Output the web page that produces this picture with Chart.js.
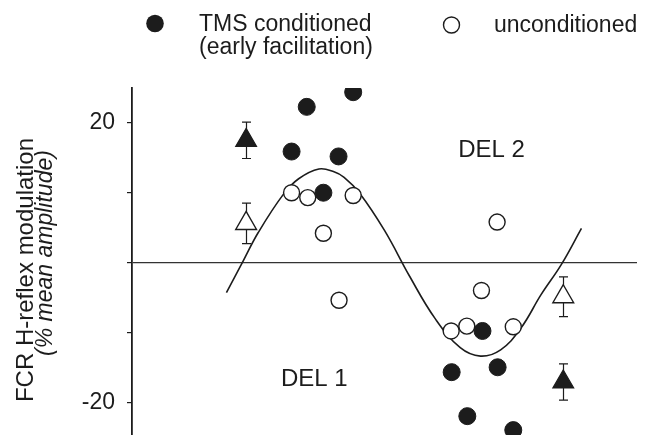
<!DOCTYPE html>
<html>
<head>
<meta charset="utf-8">
<script src="https://cdn.jsdelivr.net/npm/chart.js@4.4.1/dist/chart.umd.min.js"></script>
<style>
  html, body { margin: 0; padding: 0; background: #fff; }
  #wrap { width: 660px; height: 435px; }
</style>
</head>
<body>
<div id="wrap"><canvas id="chart" width="660" height="435"></canvas></div>
<script>
// Individual trials (x is an arbitrary phase axis, no labels in the figure)
const tmsX = [34.6, 43.8, 31.6, 40.9, 37.9, 69.4, 63.3, 72.4, 66.4, 75.5];
const tmsY = [22.3, 24.4, 15.9, 15.2, 10.0, -9.8, -15.7, -15.0, -22.0, -24.0];
const unconX = [31.6, 34.8, 43.8, 37.9, 41.0, 72.3, 69.2, 63.2, 66.3, 75.5];
const unconY = [10.0, 9.3, 9.6, 4.2, -5.4, 5.8, -4.0, -9.8, -9.1, -9.2];

// Means with error bars (triangles)
const meanX = [22.6, 85.4];
const tmsMeanY = [17.5, -17.1];
const tmsMeanErr = [2.6, 2.6];
const unconMeanY = [5.6, -4.9];
const unconMeanErr = [2.9, 2.85];

// Fitted curve
const fitX = [18.7, 22, 25, 30, 33, 37, 40, 42, 45, 50, 55, 60, 65, 69, 73, 77, 81, 85, 89];
const fitY = [-4.3, 0.2, 4.3, 9.8, 12.0, 13.4, 13.0, 12.2, 10.0, 4.6, -2.0, -8.0, -12.2, -13.4, -12.5, -9.4, -4.6, -0.3, 4.9];

const yTicks = [-20, -10, 0, 10, 20];
const yTickLabels = [-20, 20];

const legendLabels = [['TMS conditioned', '(early facilitation)'], ['unconditioned']];
const yTitle = ['FCR H-reflex modulation', '(% mean amplitude)'];
const delLabels = ['DEL 1', 'DEL 2'];

const ink = '#1c1c1c';
const fontFamily = '"Liberation Sans", Arial, Helvetica, sans-serif';

function toPoints(xs, ys) {
    return xs.map((x, i) => ({ x: x, y: ys[i] }));
}

/**
 * Draws error bars, legend, axis title and the DEL annotations
 */
const figureText = {
    id: 'figureText',
    beforeDatasetsDraw(chart) {
        const ctx = chart.ctx;
        const xs = chart.scales.x, ys = chart.scales.y;
        const bars = [[tmsMeanY, tmsMeanErr], [unconMeanY, unconMeanErr]];
        ctx.save();
        ctx.strokeStyle = ink;
        ctx.lineWidth = 1.2;
        bars.forEach(([vals, errs]) => {
            vals.forEach((v, i) => {
                const px = Math.round(xs.getPixelForValue(meanX[i])) + 0.5;
                const top = ys.getPixelForValue(v + errs[i]);
                const bot = ys.getPixelForValue(v - errs[i]);
                ctx.beginPath();
                ctx.moveTo(px, top); ctx.lineTo(px, bot);
                ctx.moveTo(px - 4.5, top); ctx.lineTo(px + 4.5, top);
                ctx.moveTo(px - 4.5, bot); ctx.lineTo(px + 4.5, bot);
                ctx.stroke();
            });
        });
        ctx.restore();
    },
    afterDraw(chart) {
        const ctx = chart.ctx;
        const xs = chart.scales.x, ys = chart.scales.y;
        ctx.save();
        ctx.fillStyle = ink;
        ctx.strokeStyle = ink;

        // legend
        ctx.beginPath();
        ctx.arc(155, 23.5, 8.8, 0, Math.PI * 2);
        ctx.fill();
        ctx.beginPath();
        ctx.arc(451.5, 25, 8, 0, Math.PI * 2);
        ctx.lineWidth = 1.4;
        ctx.stroke();

        ctx.font = '23px ' + fontFamily;
        ctx.textAlign = 'left';
        ctx.textBaseline = 'alphabetic';
        ctx.fillText(legendLabels[0][0], 199, 31);
        ctx.fillText(legendLabels[0][1], 199, 54);
        ctx.fillText(legendLabels[1][0], 494, 32);

        // DEL annotations
        ctx.font = '24px ' + fontFamily;
        ctx.fillText(delLabels[0], xs.getPixelForValue(29.5), ys.getPixelForValue(-17.7));
        ctx.fillText(delLabels[1], xs.getPixelForValue(64.6), ys.getPixelForValue(15.1));

        // y axis title, two lines, second one italic
        ctx.textAlign = 'center';
        ctx.save();
        ctx.translate(33, 270);
        ctx.rotate(-Math.PI / 2);
        ctx.font = '24px ' + fontFamily;
        ctx.fillText(yTitle[0], 0, 0);
        ctx.restore();
        ctx.save();
        ctx.translate(52, 253);
        ctx.rotate(-Math.PI / 2);
        ctx.font = 'italic 23px ' + fontFamily;
        ctx.fillText(yTitle[1], 0, 0);
        ctx.restore();

        ctx.restore();
    }
};

const config = {
    type: 'scatter',
    data: {
        datasets: [
            {
                label: 'TMS conditioned',
                data: toPoints(tmsX, tmsY),
                pointStyle: 'circle',
                pointRadius: 8.5,
                pointBackgroundColor: ink,
                pointBorderColor: ink,
                pointBorderWidth: 1,
                order: 1
            },
            {
                label: 'unconditioned',
                data: toPoints(unconX, unconY),
                pointStyle: 'circle',
                pointRadius: 8,
                pointBackgroundColor: '#fff',
                pointBorderColor: ink,
                pointBorderWidth: 1.4,
                order: 2
            },
            {
                label: 'TMS mean',
                data: toPoints(meanX, tmsMeanY),
                pointStyle: 'triangle',
                pointRadius: 12,
                pointBackgroundColor: ink,
                pointBorderColor: ink,
                pointBorderWidth: 1.2,
                order: 1
            },
            {
                label: 'unconditioned mean',
                data: toPoints(meanX, unconMeanY),
                pointStyle: 'triangle',
                pointRadius: 12,
                pointBackgroundColor: '#fff',
                pointBorderColor: ink,
                pointBorderWidth: 1.4,
                order: 1
            },
            {
                label: 'fit',
                type: 'line',
                data: toPoints(fitX, fitY),
                borderColor: ink,
                borderWidth: 1.6,
                pointRadius: 0,
                tension: 0.4,
                fill: false,
                order: 5
            }
        ]
    },
    options: {
        responsive: false,
        animation: false,
        devicePixelRatio: 1,
        layout: {
            autoPadding: false,
            padding: { top: 88, right: 23, left: 0, bottom: 0 }
        },
        plugins: {
            legend: { display: false },
            tooltip: { enabled: false }
        },
        scales: {
            x: {
                type: 'linear',
                min: 0,
                max: 100,
                display: false
            },
            y: {
                min: -24.7,
                max: 25,
                afterBuildTicks: (scale) => {
                    scale.ticks = yTicks.map(v => ({ value: v }));
                },
                afterFit: (scale) => {
                    // fixed gutter, and no label overhang padding
                    scale.width = 132;
                    scale.paddingTop = 0;
                    scale.paddingBottom = 0;
                },
                border: { display: true, color: ink, width: 1.8 },
                grid: {
                    color: (c) => (c.tick && c.tick.value === 0) ? '#333' : 'rgba(0,0,0,0)',
                    tickColor: ink,
                    tickLength: 5,
                    lineWidth: 1.2
                },
                ticks: {
                    autoSkip: false,
                    padding: 12,
                    color: ink,
                    font: { family: fontFamily, size: 23 },
                    callback: (v) => yTickLabels.includes(v) ? String(v) : ''
                }
            }
        }
    },
    plugins: [figureText]
};

new Chart(document.getElementById('chart').getContext('2d'), config);
</script>
</body>
</html>
